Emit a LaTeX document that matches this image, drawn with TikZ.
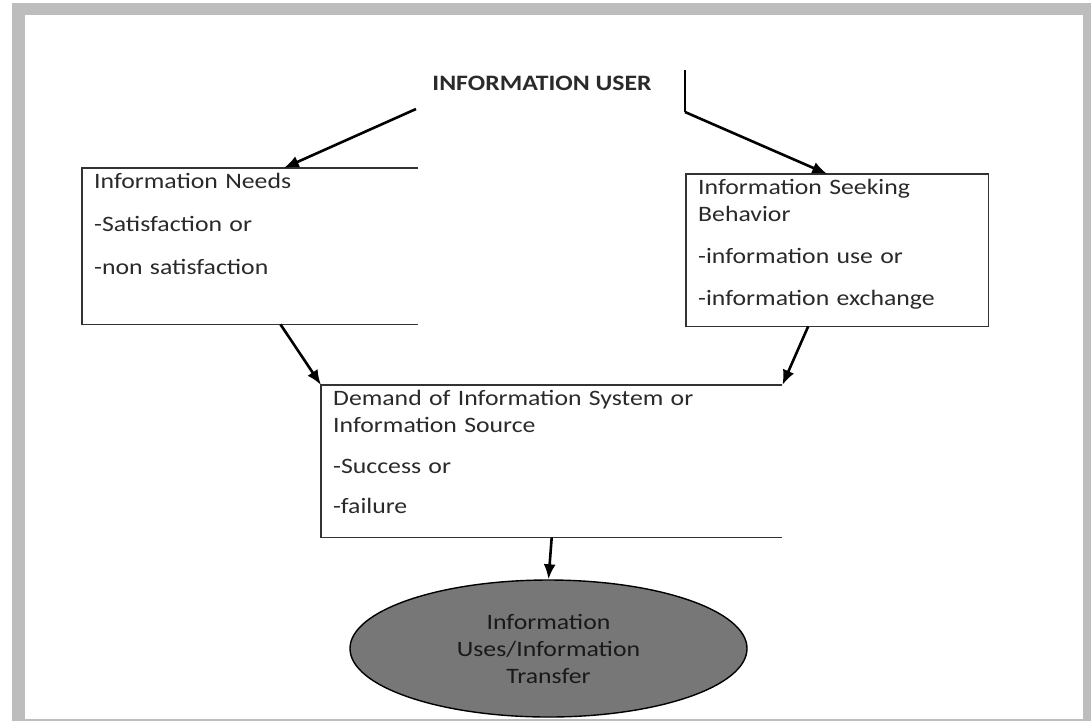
\documentclass[tikz,border=0pt]{standalone}
\usepackage{fontspec}
\setmainfont{Carlito}[FakeStretch=1.17]
\usetikzlibrary{arrows.meta, positioning, shapes.geometric, calc}
\definecolor{framegray}{HTML}{BDBDBD}
\definecolor{textgray}{HTML}{2A2A2A}
\definecolor{ovalgray}{HTML}{777777}

\begin{document}
\begin{tikzpicture}[
    x=1pt, y=-1pt,
    font=\fontsize{22}{27}\selectfont,
    block/.style = {inner xsep=12pt, inner ysep=4pt, text height=16pt, align=left, anchor=north west, text=textgray},
    side/.style = {draw=black!80, line width=1.1pt},
    arrow/.style = {line width=2.6pt, -{Latex[length=15pt, width=12pt]}},
    oval/.style = {ellipse, draw=black, line width=1.4pt, fill=ovalgray, align=center, text=black!90}
  ]

  % Frame
  \useasboundingbox (0,0) rectangle (1091,721);
  \fill[framegray] (12,3) rectangle (1091,721);
  \fill[white] (25,15) rectangle (1083,719);

  % Nodes
  \node[font=\bfseries\fontsize{22}{27}\selectfont, text=textgray] (user) at (542,83) {INFORMATION USER};

  \node[block, text width=312pt, text depth=132pt] (needs) at (82,168)
    {Information Needs\\[16pt] -Satisfaction or\\[16pt] -non satisfaction};

  \node[block, text width=278pt, text depth=128pt] (seek) at (686,174)
    {Information Seeking\\Behavior\\[15pt] -information use or\\[15pt] -information exchange};

  \node[block, text width=437pt, text depth=128pt] (demand) at (321,385)
    {Demand of Information System or\\Information Source\\[14pt] -Success or\\[13pt] -failure};

  \node[oval, minimum width=397pt, minimum height=137pt] (uses) at (548.5,648.5)
    {Information\\Uses/Information\\Transfer};

  % Box sides
  \draw[side] (needs.north east) -- (needs.north west) -- (needs.south west) -- (needs.south east);
  \draw[side] (seek.north west) rectangle (seek.south east);
  \draw[side] (demand.north east) -- (demand.north west) -- (demand.south west) -- (demand.south east);

  % Connectors
  \coordinate (ustart) at (416,109);
  \coordinate (ubar) at (685,70);
  \coordinate (ubend) at (685,112);
  \draw[arrow] (ustart) -- ($(needs.north west)!0.6!(needs.north east)$);
  \draw[line width=1.5pt] (ubar) -- (ubend);
  \draw[arrow] (ubend) -- ($(seek.north west)!0.467!(seek.north east)$);
  \draw[arrow] ($(needs.south west)!0.59!(needs.south east)$) -- (demand.north west);
  \draw[arrow] ($(seek.south west)!0.404!(seek.south east)$) -- (demand.north east);
  \draw[arrow] (demand.south) -- (uses.north);

\end{tikzpicture}
\end{document}
